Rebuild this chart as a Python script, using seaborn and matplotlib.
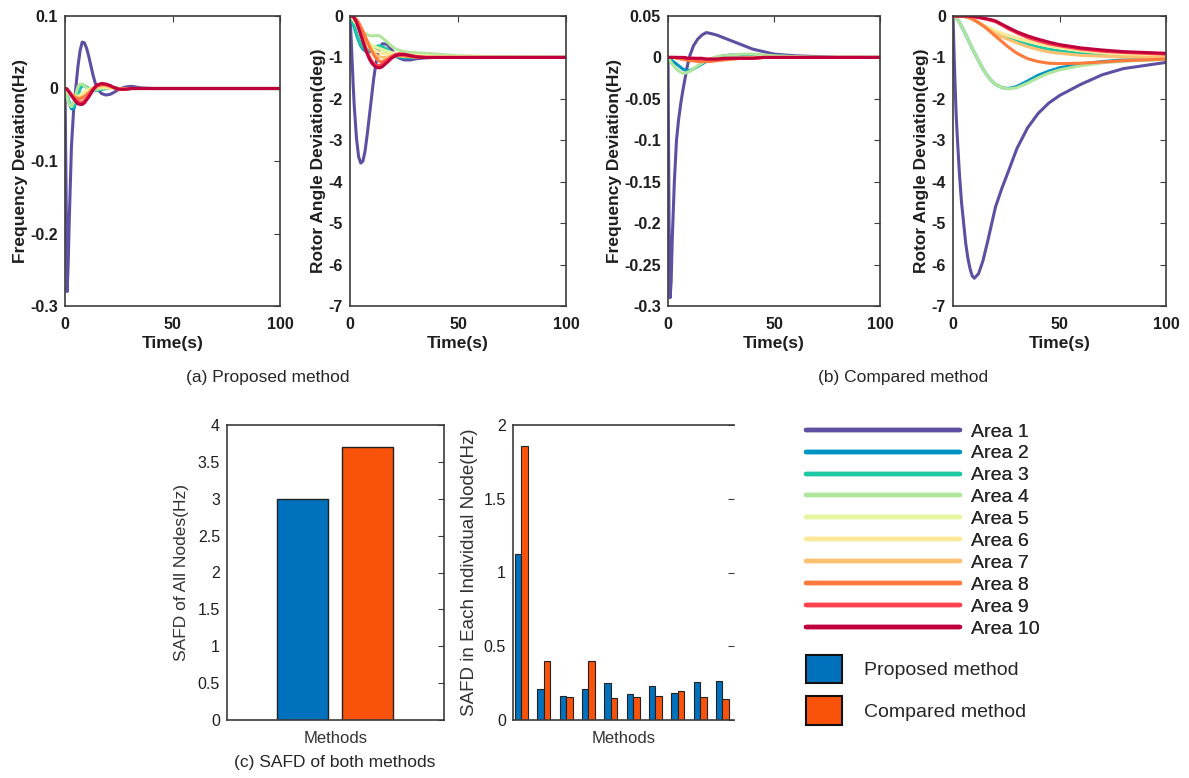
import pandas as pd
import matplotlib
matplotlib.use("Agg")
import matplotlib.pyplot as plt
import seaborn as sns
from matplotlib.lines import Line2D
from matplotlib.patches import Patch

sns.set_style("white")
plt.rcParams['font.family'] = ['Liberation Sans', 'DejaVu Sans']
plt.rcParams['axes.unicode_minus'] = False

# ---- data ----
areas = [f"Area {i}" for i in range(1, 11)]
area_colors = ['#5e4fa2', '#0094c4', '#1ec8a5', '#b0e59c', '#e6f5a0',
               '#fde89a', '#fdc070', '#ff7a3c', '#ff404e', '#c0003c']

# time grid, proposed method (a)
t_prop = [0, 0.5, 1, 1.5, 2, 3, 4, 5, 6, 7, 8, 9, 10, 11, 12, 13, 14, 15,
          17, 19, 21, 23, 25, 28, 31, 35, 40, 50, 70, 100]

freq_prop = [
    [0, -0.14, -0.28, -0.24, -0.18, -0.08, -0.03, 0.0, 0.03, 0.052, 0.064, 0.063, 0.056, 0.045, 0.032, 0.019, 0.008, 0.0, -0.007, -0.009, -0.008, -0.005, -0.001, 0.002, 0.003, 0.001, 0, 0, 0, 0],
    [0, -0.004, -0.01, -0.016, -0.021, -0.028, -0.028, -0.02, -0.009, 0.0, 0.004, 0.004, 0.002, 0.0, -0.002, -0.003, -0.003, -0.002, -0.001, 0.0, 0.001, 0.001, 0, 0, 0, 0, 0, 0, 0, 0],
    [0, -0.004, -0.009, -0.014, -0.019, -0.025, -0.025, -0.018, -0.008, 0.0, 0.004, 0.004, 0.002, 0.0, -0.002, -0.002, -0.002, -0.002, -0.001, 0.0, 0.001, 0.001, 0, 0, 0, 0, 0, 0, 0, 0],
    [0, -0.005, -0.012, -0.018, -0.022, -0.025, -0.019, -0.008, 0.002, 0.006, 0.006, 0.004, 0.001, -0.002, -0.003, -0.003, -0.002, -0.001, 0.0, 0.001, 0.001, 0, 0, 0, 0, 0, 0, 0, 0, 0],
    [0, -0.001, -0.003, -0.005, -0.007, -0.01, -0.012, -0.012, -0.011, -0.009, -0.007, -0.005, -0.003, -0.001, 0.0, 0.001, 0.002, 0.002, 0.002, 0.001, 0, 0, 0, 0, 0, 0, 0, 0, 0, 0],
    [0, -0.001, -0.002, -0.004, -0.006, -0.009, -0.011, -0.012, -0.012, -0.011, -0.009, -0.007, -0.005, -0.003, -0.001, 0.0, 0.001, 0.002, 0.002, 0.002, 0.001, 0, 0, 0, 0, 0, 0, 0, 0, 0],
    [0, -0.001, -0.002, -0.003, -0.005, -0.008, -0.01, -0.012, -0.013, -0.013, -0.012, -0.011, -0.009, -0.006, -0.004, -0.001, 0.001, 0.002, 0.004, 0.004, 0.002, 0.001, 0, -0.001, 0, 0, 0, 0, 0, 0],
    [0, -0.001, -0.002, -0.003, -0.005, -0.008, -0.011, -0.013, -0.014, -0.014, -0.013, -0.011, -0.009, -0.006, -0.003, 0.0, 0.002, 0.004, 0.005, 0.005, 0.003, 0.001, -0.001, -0.001, 0, 0, 0, 0, 0, 0],
    [0, 0, -0.001, -0.003, -0.005, -0.009, -0.013, -0.016, -0.018, -0.019, -0.019, -0.017, -0.014, -0.01, -0.006, -0.002, 0.001, 0.004, 0.006, 0.006, 0.004, 0.001, -0.001, -0.001, 0, 0, 0, 0, 0, 0],
    [0, 0, -0.001, -0.003, -0.005, -0.01, -0.014, -0.018, -0.021, -0.022, -0.022, -0.02, -0.016, -0.012, -0.007, -0.002, 0.002, 0.005, 0.007, 0.006, 0.004, 0.001, -0.001, -0.001, 0, 0, 0, 0, 0, 0],
]

angle_prop = [
    [0, -0.5, -1.1, -1.7, -2.2, -2.95, -3.4, -3.55, -3.5, -3.25, -2.85, -2.4, -1.95, -1.5, -1.15, -0.9, -0.75, -0.67, -0.68, -0.8, -0.93, -1.02, -1.06, -1.06, -1.03, -1.01, -1.0, -1.0, -1.0, -1.0],
    [0, -0.05, -0.12, -0.2, -0.28, -0.45, -0.6, -0.72, -0.8, -0.84, -0.86, -0.86, -0.85, -0.83, -0.8, -0.78, -0.78, -0.8, -0.86, -0.93, -0.98, -1.0, -1.01, -1.01, -1.0, -1.0, -1.0, -1.0, -1.0, -1.0],
    [0, -0.04, -0.1, -0.17, -0.25, -0.41, -0.56, -0.68, -0.76, -0.8, -0.82, -0.82, -0.8, -0.77, -0.74, -0.72, -0.72, -0.74, -0.8, -0.88, -0.94, -0.97, -0.99, -1.0, -1.0, -1.0, -1.0, -1.0, -1.0, -1.0],
    [0, -0.02, -0.05, -0.09, -0.13, -0.2, -0.27, -0.33, -0.38, -0.42, -0.45, -0.47, -0.48, -0.48, -0.47, -0.47, -0.49, -0.53, -0.62, -0.72, -0.79, -0.83, -0.86, -0.88, -0.89, -0.9, -0.92, -0.96, -0.99, -1.0],
    [0, -0.01, -0.03, -0.06, -0.1, -0.18, -0.27, -0.36, -0.45, -0.53, -0.6, -0.66, -0.7, -0.73, -0.75, -0.77, -0.79, -0.81, -0.85, -0.88, -0.9, -0.92, -0.93, -0.94, -0.95, -0.96, -0.97, -0.98, -1.0, -1.0],
    [0, -0.01, -0.03, -0.06, -0.1, -0.19, -0.29, -0.39, -0.49, -0.58, -0.66, -0.72, -0.77, -0.81, -0.84, -0.86, -0.88, -0.9, -0.92, -0.94, -0.95, -0.96, -0.97, -0.97, -0.98, -0.98, -0.99, -1.0, -1.0, -1.0],
    [0, 0, -0.01, -0.03, -0.06, -0.13, -0.23, -0.34, -0.45, -0.56, -0.66, -0.75, -0.83, -0.89, -0.94, -0.97, -0.99, -1.0, -1.0, -0.98, -0.96, -0.96, -0.97, -0.98, -0.99, -1.0, -1.0, -1.0, -1.0, -1.0],
    [0, 0, 0, -0.01, -0.03, -0.08, -0.16, -0.26, -0.37, -0.49, -0.61, -0.73, -0.84, -0.94, -1.02, -1.07, -1.1, -1.1, -1.06, -1.0, -0.96, -0.95, -0.96, -0.98, -0.99, -1.0, -1.0, -1.0, -1.0, -1.0],
    [0, 0, 0, -0.02, -0.05, -0.14, -0.27, -0.42, -0.58, -0.73, -0.87, -0.99, -1.08, -1.15, -1.19, -1.2, -1.19, -1.16, -1.08, -0.99, -0.93, -0.91, -0.92, -0.95, -0.98, -1.0, -1.0, -1.0, -1.0, -1.0],
    [0, 0, 0, -0.02, -0.05, -0.15, -0.3, -0.46, -0.62, -0.78, -0.92, -1.04, -1.13, -1.19, -1.23, -1.25, -1.25, -1.22, -1.13, -1.03, -0.96, -0.93, -0.93, -0.96, -0.99, -1.0, -1.0, -1.0, -1.0, -1.0],
]

# time grid, compared method (b)
t_comp = [0, 0.5, 1, 1.5, 2, 3, 4, 5, 6, 7, 8, 9, 10, 12, 14, 16, 18, 20,
          23, 26, 30, 35, 40, 45, 50, 60, 70, 80, 100]

freq_comp = [
    [0, -0.2, -0.29, -0.27, -0.22, -0.15, -0.1, -0.075, -0.056, -0.04, -0.026, -0.012, 0.0, 0.014, 0.022, 0.027, 0.03, 0.029, 0.027, 0.024, 0.02, 0.015, 0.01, 0.007, 0.004, 0.002, 0.001, 0.0, 0.0],
    [0, -0.001, -0.002, -0.003, -0.004, -0.006, -0.008, -0.01, -0.012, -0.014, -0.015, -0.016, -0.016, -0.014, -0.011, -0.008, -0.005, -0.002, 0.0, 0.002, 0.003, 0.003, 0.003, 0.002, 0.002, 0.001, 0, 0, 0],
    [0, 0, 0, 0, 0, 0, 0, -0.001, -0.001, -0.001, -0.002, -0.002, -0.002, -0.003, -0.003, -0.003, -0.003, -0.003, -0.002, -0.002, -0.001, 0, 0, 0, 0, 0, 0, 0, 0],
    [0, -0.002, -0.004, -0.006, -0.008, -0.011, -0.014, -0.016, -0.018, -0.019, -0.019, -0.018, -0.017, -0.014, -0.01, -0.007, -0.004, -0.002, 0.001, 0.002, 0.003, 0.004, 0.004, 0.003, 0.002, 0.001, 0, 0, 0],
    [0, 0, 0, 0, 0, 0, -0.001, -0.001, -0.001, -0.002, -0.002, -0.002, -0.002, -0.003, -0.003, -0.003, -0.003, -0.003, -0.002, -0.002, -0.001, -0.001, 0, 0, 0, 0, 0, 0, 0],
    [0, 0, 0, 0, 0, 0, -0.001, -0.001, -0.001, -0.002, -0.002, -0.002, -0.002, -0.003, -0.003, -0.003, -0.003, -0.003, -0.002, -0.002, -0.001, -0.001, 0, 0, 0, 0, 0, 0, 0],
    [0, 0, 0, 0, 0, 0, -0.001, -0.001, -0.001, -0.002, -0.002, -0.002, -0.003, -0.003, -0.004, -0.004, -0.004, -0.004, -0.003, -0.003, -0.002, -0.001, -0.001, 0, 0, 0, 0, 0, 0],
    [0, 0, 0, 0, 0, 0, -0.001, -0.001, -0.002, -0.002, -0.003, -0.003, -0.004, -0.004, -0.005, -0.005, -0.005, -0.005, -0.004, -0.003, -0.002, -0.001, -0.001, 0, 0, 0, 0, 0, 0],
    [0, 0, 0, 0, 0, 0, 0, 0, 0, 0, -0.001, -0.001, -0.001, -0.001, -0.002, -0.002, -0.002, -0.002, -0.002, -0.002, -0.001, -0.001, -0.001, 0, 0, 0, 0, 0, 0],
    [0, 0, 0, 0, 0, 0, 0, 0, 0, 0, 0, -0.001, -0.001, -0.001, -0.001, -0.001, -0.002, -0.002, -0.002, -0.001, -0.001, -0.001, -0.001, 0, 0, 0, 0, 0, 0],
]

angle_comp = [
    [0, -0.9, -1.7, -2.4, -2.9, -3.8, -4.5, -5.0, -5.5, -5.85, -6.1, -6.27, -6.33, -6.22, -5.92, -5.5, -5.05, -4.6, -4.15, -3.75, -3.2, -2.7, -2.35, -2.1, -1.92, -1.65, -1.42, -1.27, -1.12],
    [0, -0.01, -0.03, -0.05, -0.08, -0.15, -0.25, -0.35, -0.45, -0.56, -0.67, -0.78, -0.88, -1.08, -1.27, -1.43, -1.56, -1.65, -1.73, -1.75, -1.7, -1.57, -1.43, -1.33, -1.25, -1.16, -1.1, -1.06, -1.03],
    [0, 0, 0, 0, 0, 0, -0.005, -0.01, -0.02, -0.03, -0.05, -0.07, -0.1, -0.16, -0.22, -0.28, -0.34, -0.4, -0.47, -0.53, -0.6, -0.68, -0.75, -0.8, -0.84, -0.89, -0.93, -0.95, -0.98],
    [0, -0.01, -0.03, -0.05, -0.08, -0.15, -0.25, -0.35, -0.45, -0.56, -0.67, -0.78, -0.88, -1.08, -1.27, -1.43, -1.56, -1.65, -1.73, -1.76, -1.73, -1.62, -1.49, -1.38, -1.3, -1.2, -1.13, -1.09, -1.05],
    [0, 0, 0, 0, 0, 0, -0.005, -0.01, -0.02, -0.03, -0.05, -0.07, -0.1, -0.16, -0.22, -0.27, -0.32, -0.37, -0.43, -0.48, -0.54, -0.61, -0.67, -0.73, -0.77, -0.84, -0.89, -0.92, -0.96],
    [0, 0, 0, 0, 0, 0, -0.005, -0.01, -0.02, -0.03, -0.05, -0.07, -0.1, -0.16, -0.22, -0.26, -0.31, -0.36, -0.42, -0.47, -0.53, -0.6, -0.66, -0.72, -0.76, -0.83, -0.88, -0.92, -0.96],
    [0, 0, 0, 0, 0, 0, -0.005, -0.01, -0.02, -0.03, -0.05, -0.07, -0.1, -0.16, -0.23, -0.3, -0.37, -0.43, -0.5, -0.57, -0.65, -0.74, -0.81, -0.87, -0.9, -0.95, -0.97, -0.99, -1.0],
    [0, 0, 0, 0, 0, 0, -0.005, -0.01, -0.02, -0.03, -0.05, -0.07, -0.1, -0.16, -0.23, -0.31, -0.4, -0.49, -0.62, -0.75, -0.9, -1.03, -1.1, -1.14, -1.15, -1.14, -1.11, -1.08, -1.04],
    [0, 0, 0, 0, 0, 0, 0, 0, 0, -0.005, -0.01, -0.015, -0.02, -0.04, -0.06, -0.08, -0.11, -0.14, -0.22, -0.31, -0.41, -0.52, -0.6, -0.67, -0.72, -0.8, -0.85, -0.88, -0.92],
    [0, 0, 0, 0, 0, 0, 0, 0, 0, 0, -0.005, -0.01, -0.015, -0.03, -0.05, -0.07, -0.09, -0.12, -0.2, -0.28, -0.38, -0.48, -0.56, -0.63, -0.69, -0.77, -0.82, -0.86, -0.9],
]

# SAFD bars
methods = ['Proposed method', 'Compared method']
method_colors = ['#0072bd', '#f9530b']
safd_total = [3.0, 3.7]
nodes = [f"N{i}" for i in range(1, 11)]
safd_node_prop = [1.126, 0.207, 0.162, 0.207, 0.252, 0.178, 0.232, 0.185, 0.257, 0.266]
safd_node_comp = [1.856, 0.403, 0.155, 0.403, 0.146, 0.155, 0.164, 0.194, 0.153, 0.144]

W, H = 1189, 778


def px_axes(fig, left, top, right, bottom):
    return fig.add_axes([left / W, 1 - bottom / H, (right - left) / W, (bottom - top) / H])


def box_style(ax, size, weight, xpad, ypad):
    for s in ax.spines.values():
        s.set_visible(True)
        s.set_color('#3c3c3c')
        s.set_linewidth(1.2)
    ax.tick_params(direction='in', top=True, right=True, length=4, width=0.8,
                   colors='#3c3c3c', labelcolor='#1e1e1e', labelsize=size)
    ax.tick_params(axis='x', pad=xpad)
    ax.tick_params(axis='y', pad=ypad)
    for lab in ax.get_xticklabels() + ax.get_yticklabels():
        lab.set_fontweight(weight)


def long_form(t, rows):
    parts = [pd.DataFrame({'t': t, 'v': vals, 'area': name}) for name, vals in zip(areas, rows)]
    return pd.concat(parts, ignore_index=True)


def line_panel(ax, t, rows, yticks, ylabel):
    sns.lineplot(data=long_form(t, rows), x='t', y='v', hue='area', hue_order=areas,
                 palette=area_colors, linewidth=2.2, legend=False, ax=ax)
    ax.set_xlim(0, 100)
    ax.set_ylim(min(yticks), max(yticks))
    ax.set_xticks([0, 50, 100], labels=['0', '50', '100'])
    ax.set_yticks(yticks, labels=[f"{v:g}" for v in yticks])
    ax.set_xlabel('Time(s)', fontsize=12.5, fontweight='bold', color='#1e1e1e', labelpad=3)
    ax.set_ylabel(ylabel, fontsize=12.5, fontweight='bold', color='#1e1e1e', labelpad=2)
    box_style(ax, 11.5, 'bold', 8, 5)


fig = plt.figure(figsize=(W / 100, H / 100), dpi=100)

ax1 = px_axes(fig, 65, 16, 280, 306)
line_panel(ax1, t_prop, freq_prop, [-0.3, -0.2, -0.1, 0, 0.1], 'Frequency Deviation(Hz)')
ax2 = px_axes(fig, 350, 16, 566, 306)
line_panel(ax2, t_prop, angle_prop, [-7, -6, -5, -4, -3, -2, -1, 0], 'Rotor Angle Deviation(deg)')
ax3 = px_axes(fig, 668, 16, 880, 306)
line_panel(ax3, t_comp, freq_comp, [-0.3, -0.25, -0.2, -0.15, -0.1, -0.05, 0, 0.05], 'Frequency Deviation(Hz)')
ax4 = px_axes(fig, 953, 16, 1166, 306)
line_panel(ax4, t_comp, angle_comp, [-7, -6, -5, -4, -3, -2, -1, 0], 'Rotor Angle Deviation(deg)')

# total SAFD
ax5 = px_axes(fig, 227, 425, 444, 720)
df_total = pd.DataFrame({'method': methods, 'safd': safd_total})
sns.barplot(data=df_total, x='method', y='safd', hue='method', palette=method_colors,
            saturation=1, width=0.79, edgecolor='#222222', linewidth=1, legend=False, ax=ax5)
ax5.set_xlim(-1.17, 2.19)
ax5.set_ylim(0, 4)
ax5.set_xticks([])
yt = [0, 0.5, 1, 1.5, 2, 2.5, 3, 3.5, 4]
ax5.set_yticks(yt, labels=[f"{v:g}" for v in yt])
ax5.set_xlabel('Methods', fontsize=12, color='#333333', labelpad=8)
ax5.set_ylabel('SAFD of All Nodes(Hz)', fontsize=12.5, color='#333333', labelpad=6)
box_style(ax5, 11.5, 'normal', 3, 5)

# SAFD per node
ax6 = px_axes(fig, 513, 425, 734, 720)
df_node = pd.DataFrame({
    'node': nodes * 2,
    'method': [methods[0]] * 10 + [methods[1]] * 10,
    'safd': safd_node_prop + safd_node_comp,
})
sns.barplot(data=df_node, x='node', y='safd', hue='method', hue_order=methods,
            palette=method_colors, saturation=1, width=0.58, edgecolor='#222222',
            linewidth=0.8, legend=False, ax=ax6)
ax6.set_xlim(-0.38, 9.52)
ax6.set_ylim(0, 2)
ax6.set_xticks([])
yt = [0, 0.5, 1, 1.5, 2]
ax6.set_yticks(yt, labels=[f"{v:g}" for v in yt])
ax6.set_xlabel('Methods', fontsize=12, color='#333333', labelpad=8)
ax6.set_ylabel('SAFD in Each Individual Node(Hz)', fontsize=13.5, color='#333333', labelpad=4)
box_style(ax6, 11.5, 'normal', 3, 5)
ax6.spines['right'].set_visible(False)

# legends
line_handles = [Line2D([], [], color=c, lw=3.2) for c in area_colors]
leg1 = fig.legend(line_handles, areas, loc='upper left', bbox_to_anchor=(806 / W, 1 - 423 / H),
                  frameon=False, fontsize=14, handlelength=7.9, handletextpad=0.6,
                  labelspacing=0.22, borderpad=0, borderaxespad=0)
patch_handles = [Patch(facecolor=c, edgecolor='#111111', linewidth=1.5) for c in method_colors]
fig.legend(patch_handles, methods, loc='upper left', bbox_to_anchor=(806 / W, 1 - 655 / H),
           frameon=False, fontsize=14, handlelength=1.86, handleheight=1.86, handletextpad=1.13,
           labelspacing=0.67, borderpad=0, borderaxespad=0)
fig.add_artist(leg1)

# captions
fig.text(268 / W, 1 - 377 / H, '(a) Proposed method', ha='center', va='center', fontsize=12.5)
fig.text(903 / W, 1 - 377 / H, '(b) Compared method', ha='center', va='center', fontsize=12.5)
fig.text(335 / W, 1 - 762 / H, '(c) SAFD of both methods', ha='center', va='center', fontsize=12.5)

fig.savefig('out.png', dpi=100)
